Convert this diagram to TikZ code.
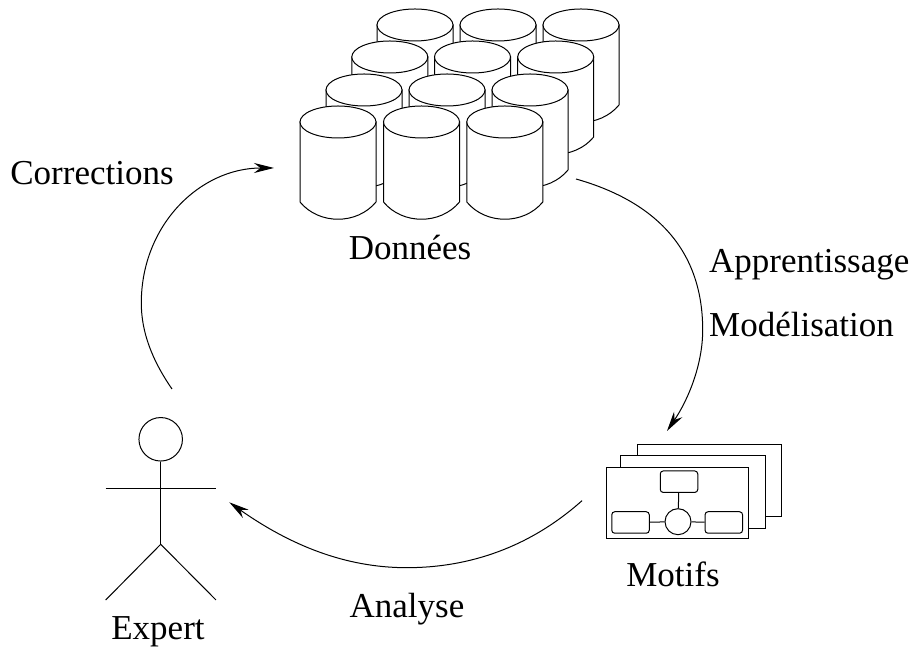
\documentclass[tikz,border=0pt]{standalone}
\usepackage{fontspec}
\setmainfont{Liberation Serif}
\usepackage{tikz}
\usetikzlibrary{shapes,arrows,arrows.meta}
\tikzset{
  label/.style={inner sep=0pt,font=\fontsize{35}{40}\selectfont},
  sheet/.style={draw,fill=white,line width=1pt},
  smallbox/.style={draw,fill=white,line width=1pt,rounded corners=3pt,inner sep=0pt,minimum width=37.5pt,minimum height=21.5pt},
  hub/.style={draw,fill=white,line width=1pt,circle,inner sep=0pt,minimum size=26pt},
  flow/.style={->,>={Stealth[length=20pt,width=10pt]},line width=1pt}
}
\newcommand\database[2]{
  \draw [fill=white,line width=1pt] (#1-38,#2) -- (#1-38,#2-80) .. controls (#1-19,#2-103) and (#1+19,#2-103) .. (#1+38,#2-80) -- (#1+38,#2) -- cycle;
  \draw [fill=white,line width=1pt] (#1,#2) ellipse (38 and 16);
}
\begin{document}
\begin{tikzpicture}[x=1pt,y=1pt]
\useasboundingbox (0,0) rectangle (911,647);

% to draw the data cylinders, back row first
\database{415}{622}
\database{498}{622}
\database{581}{622}
\database{389.8}{590}
\database{472.5}{590}
\database{555.7}{590}
\database{364}{557}
\database{447}{557}
\database{530}{557}
\database{338}{525}
\database{421.5}{525}
\database{504.8}{525}

% to draw the sheets
\draw [sheet] (637.3,202) rectangle (781.3,130);
\draw [sheet] (620.7,191) rectangle (765,118.7);
\draw [sheet] (606,179.7) rectangle (748.3,108);
\node [smallbox] (topbox) at (679,165.3) {};
\node [smallbox] (leftbox) at (630.5,124.5) {};
\node [smallbox] (rightbox) at (723.8,124.5) {};
\node [hub] (hub) at (678,125.3) {};
\draw [line width=1pt] (topbox) -- (hub);
\draw [line width=1pt] (leftbox) -- (hub);
\draw [line width=1pt] (rightbox) -- (hub);

% to draw the expert
\node [draw,circle,line width=1pt,inner sep=0pt,minimum size=43.5pt] (head) at (160.7,207.7) {};
\coordinate (hip) at (160.7,102.7);
\coordinate (handl) at (105.7,158);
\coordinate (handr) at (216,158);
\coordinate (footl) at (105.7,47);
\coordinate (footr) at (216,47);
\draw [line width=1pt] (head) -- (hip);
\draw [line width=1pt] (handl) -- (handr);
\draw [line width=1pt] (footl) -- (hip) -- (footr);

% to write entities
\node [label] (donnees) at (410,399) {Données};
\node [label] (motifs) at (673,73) {Motifs};
\node [label] (expert) at (158,15) {Expert};
\node [label] (corrections) at (92,474) {Corrections};
\node [label,anchor=west] (apprentissage) at (709,382) {Apprentissage};
\node [label,anchor=west] (modelisation) at (709,322) {Modélisation};
\node [label] (analyse) at (407,38) {Analyse};

% to draw arrows
\coordinate (dataout) at (576,468);
\coordinate (rightmid) at (702.7,317);
\coordinate (motifin) at (667,216);
\coordinate (motifout) at (582,146.3);
\coordinate (bottommid) at (406.7,79.3);
\coordinate (expertin) at (229.3,144.7);
\coordinate (expertout) at (172,258);
\coordinate (leftmid) at (141.3,344);
\coordinate (datain) at (274,479);
\draw [flow] (dataout) .. controls (650,447) and (702.7,402) .. (rightmid) .. controls (702.7,282) and (688,247) .. (motifin);
\draw [flow] (motifout) .. controls (530,100) and (470,79.3) .. (bottommid) .. controls (345,79.3) and (290,102) .. (expertin);
\draw [flow] (expertout) .. controls (152,287) and (141.3,315) .. (leftmid) .. controls (141.3,422) and (200,479) .. (datain);
\end{tikzpicture}
\end{document}
